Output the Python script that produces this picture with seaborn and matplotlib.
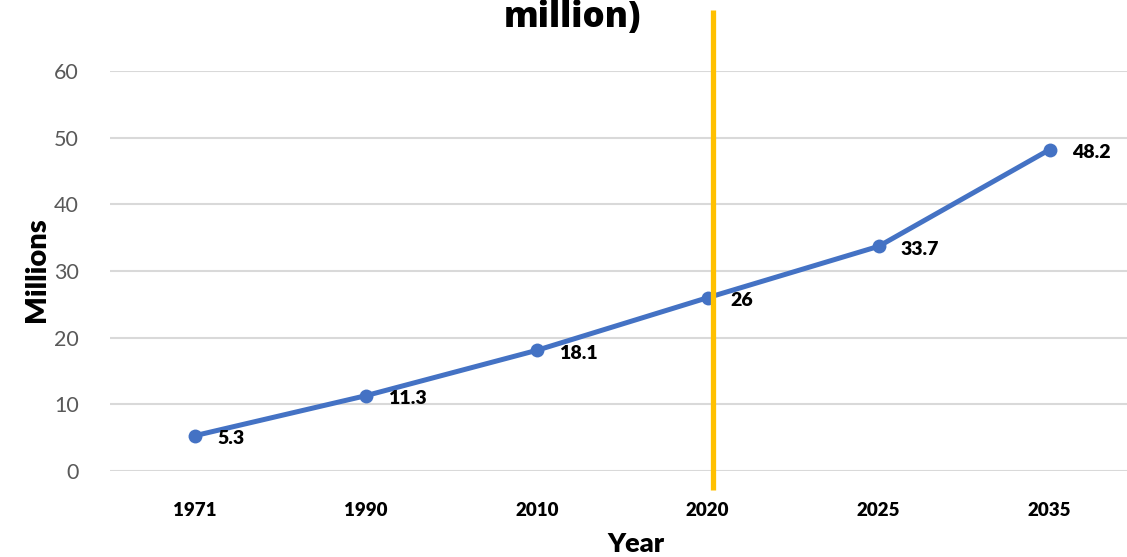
import matplotlib
matplotlib.use("Agg")
import matplotlib.pyplot as plt
import seaborn as sns
import pandas as pd

years = ["1971", "1990", "2010", "2020", "2025", "2035"]
values = [5.3, 11.3, 18.1, 26, 33.7, 48.2]
value_labels = ["5.3", "11.3", "18.1", "26", "33.7", "48.2"]
y_ticks = [0, 10, 20, 30, 40, 50, 60]
title_text = "million)"
marker_year_pos = 3.03  # vertical marker just right of 2020

sns.set_theme(style="white")
plt.rcParams['font.family'] = ['Lato', 'DejaVu Sans']

W, H = 1127, 557
fig = plt.figure(figsize=(W / 100, H / 100), dpi=100)
left = 109.5 / W
right = 1135.0 / W
top_px, bot_px = 71.0, 471.0
ax = fig.add_axes([left, 1 - bot_px / H, right - left, (bot_px - top_px) / H])

df = pd.DataFrame({"Year": years, "Millions": values})
sns.lineplot(data=df, x="Year", y="Millions", sort=False, ax=ax,
             color="#4472C4", linewidth=3.6, marker="o", markersize=10,
             markeredgewidth=0, zorder=3)

ax.set_xlim(-0.5, len(years) - 0.5)
ax.set_ylim(0, 60)
ax.set_yticks(y_ticks)
ax.set_yticklabels([str(t) for t in y_ticks], color="#595959", fontsize=15.5)
ax.tick_params(axis='y', length=0, pad=22)
ax.tick_params(axis='x', length=0, pad=22)
for lbl in ax.get_xticklabels():
    lbl.set_fontweight('heavy')
    lbl.set_fontsize(13.5)
    lbl.set_color('black')

ax.grid(axis='y', color="#D9D9D9", linewidth=1.5)
ax.set_axisbelow(True)
for s in ax.spines.values():
    s.set_visible(False)

ax.set_xlabel("Year", fontsize=19.5, fontweight='heavy', color='black', va='top')
ax.xaxis.set_label_coords((636 - 109.5) / (1135 - 109.5), (471 - 532) / 400)
ax.set_ylabel("Millions", fontsize=21, fontweight='heavy', color='black', va='center')
ax.yaxis.set_label_coords((37 - 109.5) / (1135 - 109.5), (471 - 270) / 400)

for i, (v, t) in enumerate(zip(values, value_labels)):
    ax.annotate(t, (i, v), xytext=(16, -2), textcoords='offset points',
                ha='left', va='center', fontsize=14, fontweight='heavy', color='black')

ax.plot([marker_year_pos, marker_year_pos], [-2.85, 69.2], color="#FFC000",
        linewidth=3.8, clip_on=False, zorder=4, solid_capstyle='butt')

fig.text(573 / W, 1 - 27 / H, title_text, ha='center', va='baseline',
         fontsize=25, fontweight='heavy', color='black',
         family=['Open Sans', 'DejaVu Sans'])

fig.savefig("out.png", dpi=100)
